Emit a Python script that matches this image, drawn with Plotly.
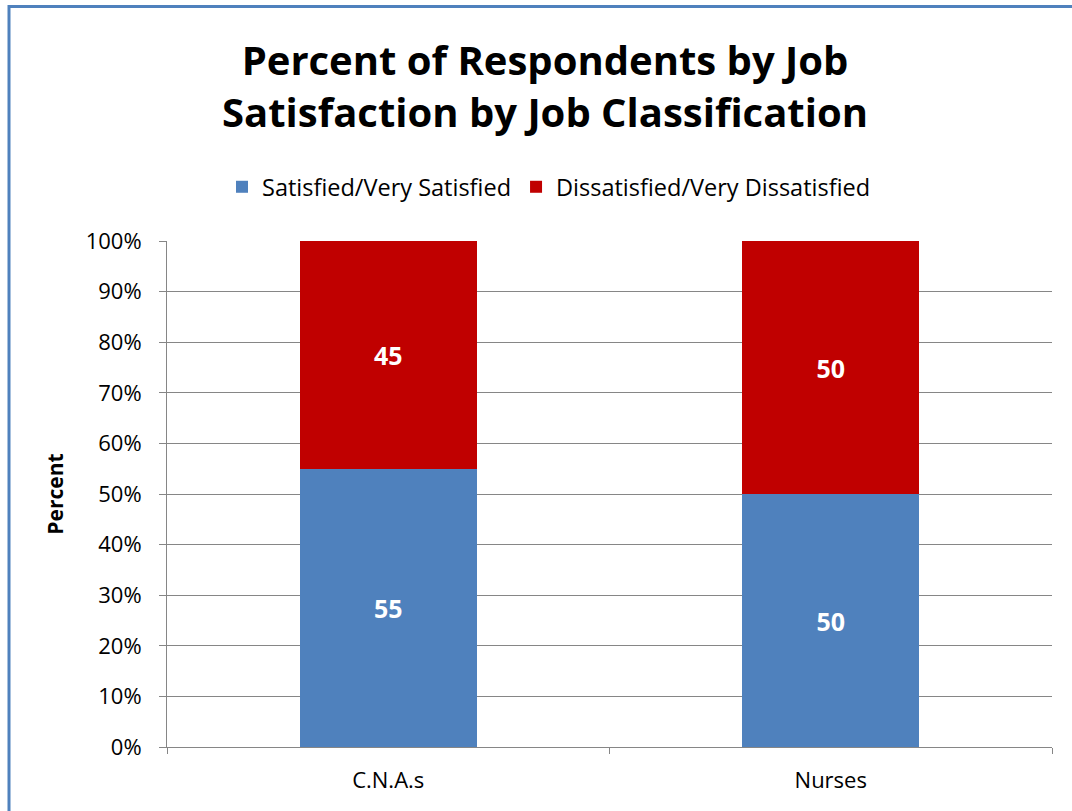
import plotly.graph_objects as go

categories = ["C.N.A.s", "Nurses"]
satisfied = [55, 50]
dissatisfied = [45, 50]
series_names = ["Satisfied/Very Satisfied", "Dissatisfied/Very Dissatisfied"]
y_ticks = [0, 10, 20, 30, 40, 50, 60, 70, 80, 90, 100]
y_tick_labels = [f"{v}%" for v in y_ticks]

FONT = "Open Sans"
W, H = 1072, 811
L, R, T, B = 167, 20, 241, 64
pw, ph = W - L - R, H - T - B

fig = go.Figure()
fig.add_trace(go.Bar(
    x=categories, y=satisfied, name=series_names[0],
    marker=dict(color="#4F81BD", line=dict(width=0)),
    text=[str(v) for v in satisfied], textposition="inside",
    insidetextanchor="middle",
    textfont=dict(family=FONT, size=25, color="white", weight="bold"),
    hoverinfo="skip",
))
fig.add_trace(go.Bar(
    x=categories, y=dissatisfied, name=series_names[1],
    marker=dict(color="#C00000", line=dict(width=0)),
    text=[str(v) for v in dissatisfied], textposition="inside",
    insidetextanchor="middle",
    textfont=dict(family=FONT, size=25, color="white", weight="bold"),
    hoverinfo="skip",
))

def px_x(x):
    return (x - L) / pw

def px_y(y):
    return (H - B - y) / ph

fig.update_layout(
    width=W, height=H,
    margin=dict(l=L, r=R, t=T, b=B, autoexpand=False),
    barmode="stack", bargap=0.6,
    paper_bgcolor="white", plot_bgcolor="white",
    font=dict(family=FONT, color="black"),
    title=dict(
        text="Percent of Respondents by Job<br>Satisfaction by Job Classification",
        x=545 / W, xref="container", xanchor="center",
        y=1 - 75 / H, yref="container", yanchor="middle",
        font=dict(family=FONT, size=40, color="black", weight="bold"),
    ),
    legend=dict(
        orientation="h", x=px_x(549), xanchor="center",
        y=px_y(187), yanchor="middle",
        font=dict(family=FONT, size=23.5, color="black"),
        itemwidth=30, traceorder="normal",
    ),
    xaxis=dict(
        showline=True, linecolor="#868686", linewidth=1,
        ticks="outside", tickson="boundaries", ticklen=6, tickcolor="#868686",
        tickfont=dict(family=FONT, size=22, color="black"),
        ticklabelstandoff=14,
        showgrid=False,
    ),
    yaxis=dict(
        range=[0, 100], tickvals=y_ticks, ticktext=y_tick_labels,
        showline=True, linecolor="#868686", linewidth=1,
        ticks="outside", ticklen=7, tickcolor="#868686",
        showgrid=True, gridcolor="#868686", gridwidth=1,
        tickfont=dict(family=FONT, size=22, color="black"),
        ticklabelstandoff=13,
        title=dict(text="Percent", standoff=16,
                   font=dict(family=FONT, size=21, color="black", weight="bold")),
        zeroline=False,
    ),
    shapes=[dict(
        type="rect", xref="paper", yref="paper",
        x0=px_x(9), x1=px_x(1085), y0=px_y(830), y1=px_y(6.5),
        line=dict(color="#4F81BD", width=3), fillcolor="rgba(0,0,0,0)",
        layer="above",
    )],
)

fig.write_html("out.html")
